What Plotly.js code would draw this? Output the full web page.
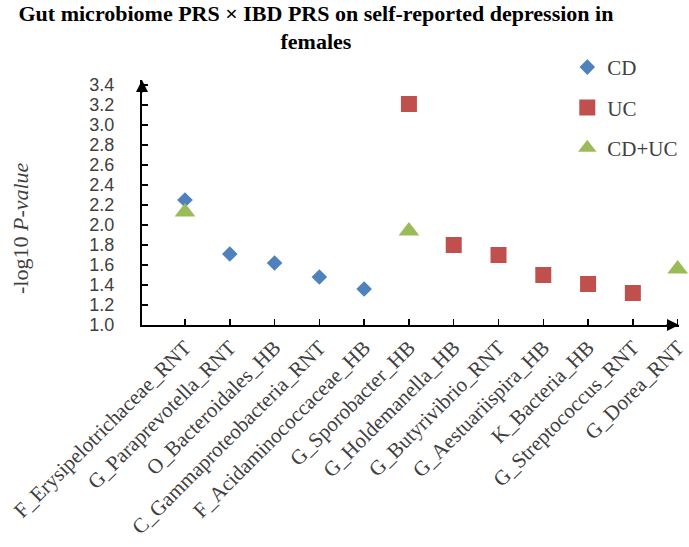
<!DOCTYPE html>
<html>
<head>
<meta charset="utf-8">
<script src="https://cdn.plot.ly/plotly-3.0.1.min.js"></script>
<style>html,body{margin:0;padding:0;background:#fff;}#chart{width:689px;height:547px;}</style>
</head>
<body>
<div id="chart"></div>
<script>
const categories = [
  "F_Erysipelotrichaceae_RNT", "G_Paraprevotella_RNT", "O_Bacteroidales_HB",
  "C_Gammaproteobacteria_RNT", "F_Acidaminococcaceae_HB", "G_Sporobacter_HB",
  "G_Holdemanella_HB", "G_Butyrivibrio_RNT", "G_Aestuariispira_HB",
  "K_Bacteria_HB", "G_Streptococcus_RNT", "G_Dorea_RNT"
];
const cdCats = ["F_Erysipelotrichaceae_RNT", "G_Paraprevotella_RNT", "O_Bacteroidales_HB", "C_Gammaproteobacteria_RNT", "F_Acidaminococcaceae_HB"];
const cdValues = [2.25, 1.71, 1.62, 1.48, 1.36];
const ucCats = ["G_Sporobacter_HB", "G_Holdemanella_HB", "G_Butyrivibrio_RNT", "G_Aestuariispira_HB", "K_Bacteria_HB", "G_Streptococcus_RNT"];
const ucValues = [3.21, 1.80, 1.70, 1.50, 1.41, 1.32];
const cducCats = ["F_Erysipelotrichaceae_RNT", "G_Sporobacter_HB", "G_Dorea_RNT"];
const cducValues = [2.13, 1.94, 1.56];
const yTicks = [1.0, 1.2, 1.4, 1.6, 1.8, 2.0, 2.2, 2.4, 2.6, 2.8, 3.0, 3.2, 3.4];

const idx = c => categories.indexOf(c) + 1;
const serif = "Liberation Serif, Times New Roman, serif";

const traces = [
  {name: "CD", x: cdCats.map(idx), y: cdValues, type: "scatter", mode: "markers",
   marker: {symbol: "diamond", size: 12, color: "#4F81BD"}, legendgroup: "a", cliponaxis: false},
  {name: "UC", x: ucCats.map(idx), y: ucValues, type: "scatter", mode: "markers",
   marker: {symbol: "square", size: 16, color: "#C0504D"}, legendgroup: "b", cliponaxis: false},
  {name: "CD+UC", x: cducCats.map(idx), y: cducValues, type: "scatter", mode: "markers",
   marker: {symbol: "triangle-up", size: 18, color: "#9BBB59"}, legendgroup: "c", cliponaxis: false}
];

const layout = {
  width: 689, height: 547,
  margin: {l: 142, r: 10, t: 80, b: 222, autoexpand: false},
  paper_bgcolor: "#fff", plot_bgcolor: "#fff",
  title: {
    text: "<b>Gut microbiome PRS × IBD PRS on self-reported depression in<br>females</b>",
    font: {family: serif, size: 22, color: "#000"},
    x: 0.4586, xanchor: "center", y: 0.962, yanchor: "top", yref: "container"
  },
  xaxis: {
    range: [0.04, 12.03], showgrid: false, zeroline: false,
    showline: true, linecolor: "#000", linewidth: 2,
    ticks: "inside", ticklen: 6, tickcolor: "#000", tickwidth: 1.5,
    tickmode: "array", tickvals: categories.map(idx), ticktext: categories,
    tickangle: -45, ticklabelstandoff: 0,
    tickfont: {family: serif, size: 21, color: "#404040"}
  },
  yaxis: {
    range: [1.0, 3.45], showgrid: false, zeroline: false,
    showline: true, linecolor: "#000", linewidth: 2,
    ticks: "inside", ticklen: 6, tickcolor: "#000", tickwidth: 1.5,
    tickmode: "array", tickvals: yTicks, ticktext: yTicks.map(v => v.toFixed(1)),
    ticklabelstandoff: 22,
    tickfont: {family: "Liberation Sans, Arial, sans-serif", size: 18, color: "#404040"}
  },
  showlegend: true,
  legend: {
    x: 0.792, xanchor: "left", y: 1.135, yanchor: "top",
    font: {family: serif, size: 21, color: "#404040"},
    traceorder: "grouped", tracegroupgap: 10, itemwidth: 30,
    bgcolor: "rgba(0,0,0,0)"
  },
  annotations: [
    {text: "-log10 <i>P-value</i>", xref: "paper", yref: "paper",
     x: (20 - 142) / 537, y: (325 - 228) / 245, xanchor: "center", yanchor: "middle",
     textangle: -90, showarrow: false, font: {family: serif, size: 22, color: "#404040"}},
    {text: "", xref: "paper", yref: "paper", x: 0, y: 1, ax: 0, ay: 14,
     showarrow: true, arrowhead: 2, arrowsize: 1.2, arrowwidth: 2, arrowcolor: "#000"},
    {text: "", xref: "paper", yref: "paper", x: 1, y: 0, ax: -14, ay: 0,
     showarrow: true, arrowhead: 2, arrowsize: 1.2, arrowwidth: 2, arrowcolor: "#000"}
  ]
};

Plotly.newPlot("chart", traces, layout, {displayModeBar: false, staticPlot: true});
</script>
</body>
</html>
